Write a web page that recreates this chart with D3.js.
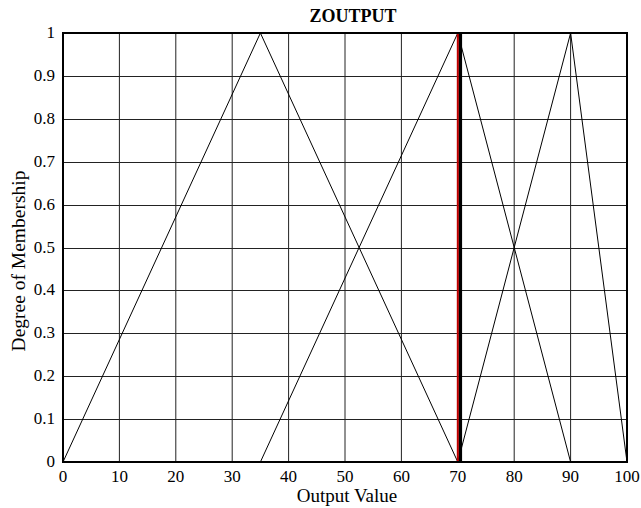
<!DOCTYPE html>
<html>
<head>
<meta charset="utf-8">
<script src="https://cdn.jsdelivr.net/npm/d3@7"></script>
<style>
  body { margin: 0; background: #fff; }
  svg text { font-family: "Liberation Serif", "Times New Roman", serif; }
</style>
</head>
<body>
<div id="chart"></div>
<script>
// membership functions (triangles: left, peak, right)
var mfParams = [[0, 35, 70], [35, 70, 90], [70, 90, 100]];
var xTicks = [0, 10, 20, 30, 40, 50, 60, 70, 80, 90, 100];
var yTicks = [0, 0.1, 0.2, 0.3, 0.4, 0.5, 0.6, 0.7, 0.8, 0.9, 1];
var yTickLabels = ["0", "0.1", "0.2", "0.3", "0.4", "0.5", "0.6", "0.7", "0.8", "0.9", "1"];
var redLineValue = 70;
var blackLineValue = 70.45;

var W = 641, H = 508;
var margin = {top: 33, right: 14, bottom: 46, left: 63},
    width = W - margin.left - margin.right,
    height = H - margin.top - margin.bottom;

var svg = d3.select("#chart")
  .append("svg")
    .attr("width", W)
    .attr("height", H)
  .append("g")
    .attr("transform", "translate(" + margin.left + "," + margin.top + ")");

var x = d3.scaleLinear().domain([0, 100]).range([0, width]);
var y = d3.scaleLinear().domain([0, 1]).range([height, 0]);

// grid
svg.append("g")
  .selectAll("line")
  .data(xTicks)
  .enter().append("line")
    .attr("x1", d => x(d)).attr("x2", d => x(d))
    .attr("y1", 0).attr("y2", height)
    .attr("stroke", "#222").attr("stroke-width", 1);
svg.append("g")
  .selectAll("line")
  .data(yTicks)
  .enter().append("line")
    .attr("x1", 0).attr("x2", width)
    .attr("y1", d => Math.round(y(d)) + 0.5).attr("y2", d => Math.round(y(d)) + 0.5)
    .attr("stroke", "#222").attr("stroke-width", 1);

// tick labels
svg.append("g")
  .selectAll("text")
  .data(xTicks)
  .enter().append("text")
    .attr("x", d => x(d))
    .attr("y", height + 20)
    .attr("text-anchor", "middle")
    .style("font-family", "'Liberation Serif', serif")
    .style("font-size", "17px")
    .text(d => d);
svg.append("g")
  .selectAll("text")
  .data(yTicks)
  .enter().append("text")
    .attr("x", -8)
    .attr("y", d => y(d) + 5)
    .attr("text-anchor", "end")
    .style("font-family", "'Liberation Serif', serif")
    .style("font-size", "17px")
    .text((d, i) => yTickLabels[i]);

// membership lines
var line = d3.line().x(d => x(d[0])).y(d => y(d[1]));
svg.append("g")
  .selectAll("path")
  .data(mfParams)
  .enter().append("path")
    .attr("d", p => line([[p[0], 0], [p[1], 1], [p[2], 0]]))
    .attr("fill", "none")
    .attr("stroke", "#000")
    .attr("stroke-width", 1);

// output lines
svg.append("line")
  .attr("x1", x(blackLineValue)).attr("x2", x(blackLineValue))
  .attr("y1", 0).attr("y2", height)
  .attr("stroke", "#000").attr("stroke-width", 3.5);
svg.append("line")
  .attr("x1", x(redLineValue)).attr("x2", x(redLineValue))
  .attr("y1", 0).attr("y2", height)
  .attr("stroke", "#c00000").attr("stroke-width", 2);

// frame
svg.append("rect")
  .attr("x", 0).attr("y", 0)
  .attr("width", width).attr("height", height)
  .attr("fill", "none")
  .attr("stroke", "#000").attr("stroke-width", 2);

// titles
svg.append("text")
  .attr("x", width / 2 + 8)
  .attr("y", -11)
  .style("text-anchor", "middle")
  .style("font-weight", "bold")
  .style("font-size", "18px")
  .text("ZOUTPUT");

svg.append("text")
  .attr("x", width / 2 + 2)
  .attr("y", height + 40)
  .style("text-anchor", "middle")
  .style("font-size", "19px")
  .text("Output Value");

svg.append("text")
  .attr("transform", "rotate(-90)")
  .attr("x", -228)
  .attr("y", -38)
  .style("text-anchor", "middle")
  .style("font-size", "19.5px")
  .text("Degree of Membership");
</script>
</body>
</html>
